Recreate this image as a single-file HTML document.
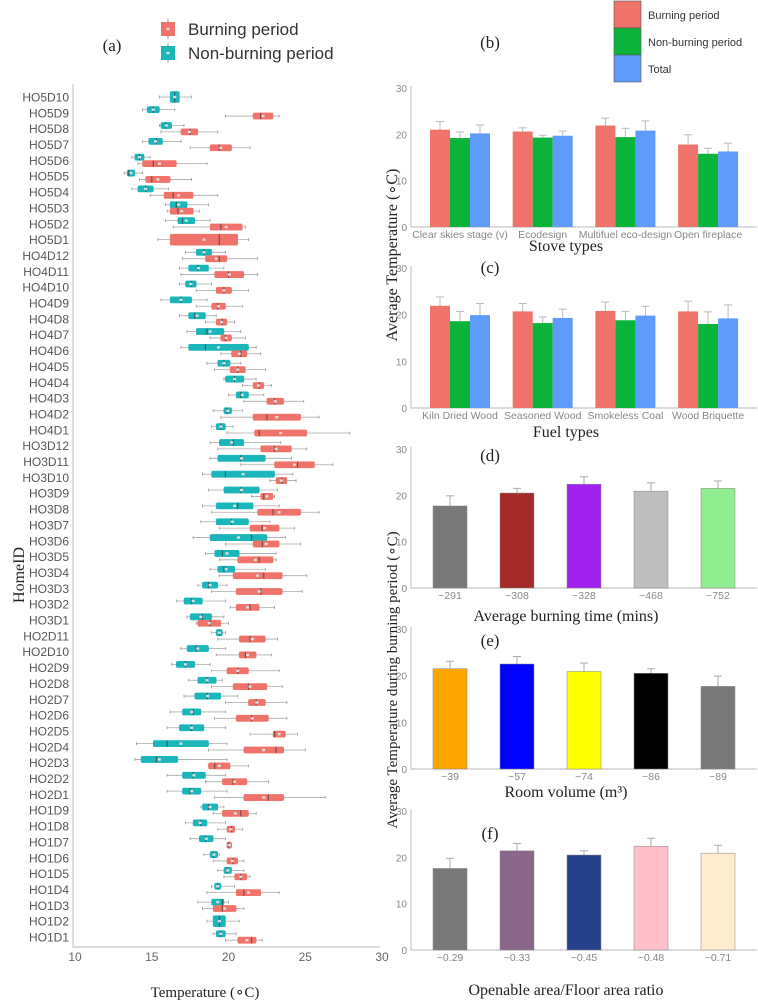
<!DOCTYPE html>
<html><head><meta charset="utf-8"><style>
html,body{margin:0;padding:0;background:#fff;}
svg{display:block;font-family:"Liberation Sans",sans-serif;}
.serif{font-family:"Liberation Serif",serif;}
</style></head><body>
<svg id="fig" width="758" height="1000" viewBox="0 0 758 1000" xmlns="http://www.w3.org/2000/svg"></svg>
<script>
// ---------- Panel (a) data ----------
const homeIds = ["HO5D10","HO5D9","HO5D8","HO5D7","HO5D6","HO5D5","HO5D4","HO5D3","HO5D2","HO5D1",
"HO4D12","HO4D11","HO4D10","HO4D9","HO4D8","HO4D7","HO4D6","HO4D5","HO4D4","HO4D3","HO4D2","HO4D1",
"HO3D12","HO3D11","HO3D10","HO3D9","HO3D8","HO3D7","HO3D6","HO3D5","HO3D4","HO3D3","HO3D2","HO3D1",
"HO2D11","HO2D10","HO2D9","HO2D8","HO2D7","HO2D6","HO2D5","HO2D4","HO2D3","HO2D2","HO2D1",
"HO1D9","HO1D8","HO1D7","HO1D6","HO1D5","HO1D4","HO1D3","HO1D2","HO1D1"];
// [whiskerMin, q1, median, q3, whiskerMax]
const nonBurning = [[15.5,16.2,16.5,16.8,17.6],[14.4,14.7,15.1,15.5,16.5],[15.5,15.6,15.9,16.3,17.1],[14.4,14.8,15.3,15.7,16.9],[13.7,13.9,14.2,14.5,14.9],[13.2,13.4,13.5,13.9,14.4],[13.7,14.1,14.6,15.1,16.1],[15.9,16.2,16.6,17.3,18.7],[15.9,16.7,17.0,17.8,18.8],null,
[17.2,17.9,18.4,18.9,19.8],[16.8,17.4,18.0,18.7,19.7],[16.8,17.2,17.6,17.9,18.9],[15.6,16.2,16.9,17.6,18.6],[16.8,17.4,17.8,18.5,19.2],[17.3,17.9,18.6,19.7,20.8],[16.9,17.4,18.5,21.3,21.8],[18.6,19.3,19.7,20.1,20.8],[19.7,19.8,20.4,21.0,21.8],[20.0,20.5,20.8,21.3,22.3],[19.0,19.7,19.9,20.2,20.9],[18.9,19.2,19.5,19.8,20.3],
[18.8,19.4,20.3,21.0,23.4],[18.8,19.3,20.8,22.4,24.1],[18.3,18.9,19.8,23.0,24.2],[18.7,19.7,20.8,22.0,23.2],[18.3,19.2,20.6,21.6,23.3],[18.2,19.2,20.2,21.3,22.7],[17.7,18.8,21.5,22.5,23.7],[18.5,19.1,19.6,20.7,23.1],[18.8,19.3,19.7,20.4,22.4],[18.0,18.3,18.7,19.3,19.9],[16.6,17.1,17.6,18.3,19.8],[17.3,17.5,18.3,18.9,19.7],
[18.9,19.2,19.4,19.6,19.8],[16.9,17.3,17.9,18.7,19.8],[16.3,16.6,17.2,17.8,18.8],[17.4,18.0,18.6,19.2,19.6],[17.1,17.8,18.6,19.5,20.6],[16.2,17.0,17.7,18.2,19.8],[16.0,16.8,17.6,18.4,19.8],[14.0,15.1,16.0,18.7,19.9],[13.9,14.3,15.3,16.7,19.9],[16.0,17.0,17.7,18.5,19.8],[16.0,17.0,17.5,18.2,19.9],
[18.2,18.3,18.7,19.3,19.7],[17.2,17.7,18.2,18.6,19.8],[17.5,18.1,18.5,19.0,19.8],[18.4,18.8,19.0,19.3,19.4],[19.3,19.7,19.9,20.2,21.0],[18.9,19.1,19.3,19.5,20.4],[18.0,18.9,19.6,19.7,20.0],[18.6,19.0,19.4,19.8,20.7],[19.0,19.2,19.5,19.8,20.5]];
const burning = [null,[19.8,21.6,22.1,22.9,23.3],[15.6,16.9,17.5,18.0,19.3],[17.5,18.8,19.4,20.2,21.4],[14.1,14.4,15.1,16.6,18.6],[14.2,14.6,15.0,16.2,17.6],[14.9,15.8,16.4,17.7,19.3],[16.0,16.2,16.7,17.7,18.1],[16.4,18.8,19.5,20.9,21.1],[15.4,16.2,19.4,20.6,21.3],
[17.0,18.5,19.4,19.9,21.9],[16.9,19.1,20.0,21.0,21.9],[17.9,19.2,19.7,20.2,21.3],[17.9,18.9,19.3,19.8,20.9],[18.5,19.2,19.6,19.9,20.4],[18.8,19.5,19.8,20.2,21.1],[19.5,20.2,20.8,21.2,22.1],[19.1,20.1,20.6,21.1,22.4],[20.9,21.6,22.0,22.3,22.8],[21.0,22.5,23.0,23.6,24.9],[19.5,21.6,22.5,24.7,25.9],[19.9,21.7,22.0,25.1,27.9],
[19.3,22.1,23.0,24.1,25.1],[20.8,23.0,24.5,25.6,26.8],[22.7,23.1,23.5,23.8,24.4],[21.5,22.1,22.3,22.9,23.0],[18.9,21.9,22.9,24.7,25.9],[19.4,21.4,22.2,23.3,24.3],[19.8,21.6,22.2,23.3,24.7],[19.4,20.6,22.0,22.9,23.1],[19.4,20.3,22.3,23.5,25.1],[18.9,20.5,22.1,23.5,24.8],[20.1,20.5,21.4,22.0,23.0],[17.9,18.0,18.8,19.5,20.0],
[19.3,20.7,21.4,22.4,23.2],[19.2,20.7,21.1,21.8,22.8],[18.9,19.9,20.6,21.3,23.3],[18.9,20.3,21.3,22.5,23.5],[19.8,21.3,21.8,22.4,23.8],[19.1,20.5,21.5,22.6,23.8],[21.4,22.9,23.0,23.7,24.5],[18.7,21.0,23.1,23.6,25.0],[18.7,18.7,19.1,20.1,21.3],[18.5,19.6,20.3,21.2,22.6],[19.1,21.0,22.6,23.6,26.3],
[19.0,19.6,20.8,21.3,21.8],[19.3,19.9,20.2,20.4,20.9],[19.9,19.9,20.0,20.2,20.2],[19.0,19.9,20.3,20.6,21.0],[19.7,20.4,20.8,21.2,21.4],[18.6,20.5,21.0,22.1,23.3],[18.3,19.0,19.6,20.5,21.0],null,[19.8,20.6,21.5,21.8,22.2]];
const tempTicks = [10,15,20,25,30];

// ---------- Panel (b),(c) data ----------
const stoveTypes = ["Clear skies stage (v)","Ecodesign","Multifuel eco-design","Open fireplace"];
const stoveBurn = [21.0,20.6,21.9,17.8];
const stoveNon = [19.2,19.3,19.4,15.8];
const stoveTotal = [20.2,19.7,20.8,16.3];
const stoveBurnErr = [22.8,21.4,23.5,19.9];
const stoveNonErr = [20.5,19.8,21.3,17.0];
const stoveTotalErr = [22.0,20.7,22.9,18.1];
const fuelTypes = ["Kiln Dried Wood","Seasoned Wood","Smokeless Coal","Wood Briquette"];
const fuelBurn = [21.9,20.7,20.8,20.7];
const fuelNon = [18.6,18.2,18.8,18.0];
const fuelTotal = [19.9,19.3,19.8,19.2];
const fuelBurnErr = [23.8,22.4,22.7,22.9];
const fuelNonErr = [20.7,19.5,20.7,20.6];
const fuelTotalErr = [22.4,21.2,21.8,22.1];
const barTicks = [0,10,20,30];

// ---------- Panels (d),(e),(f) data ----------
const burnTimeCats = ["~291","~308","~328","~468","~752"];
const burnTimeVals = [17.7,20.5,22.4,20.9,21.5];
const burnTimeErr = [19.9,21.5,24.0,22.7,23.1];
const volumeCats = ["~39","~57","~74","~86","~89"];
const volumeVals = [21.5,22.5,20.9,20.5,17.7];
const volumeErr = [23.1,24.1,22.7,21.5,19.9];
const ratioCats = ["~0.29","~0.33","~0.45","~0.48","~0.71"];
const ratioVals = [17.6,21.4,20.5,22.4,20.9];
const ratioErr = [19.8,23.0,21.4,24.1,22.6];

const NS = "http://www.w3.org/2000/svg";
const svg = document.getElementById("fig");
function mk(tag, attrs, parent, txt){
  const e = document.createElementNS(NS, tag);
  for (const k in attrs) e.setAttribute(k, attrs[k]);
  if (txt !== undefined) e.textContent = txt;
  (parent || svg).appendChild(e);
  return e;
}
const RED = "#f0736b", TEAL = "#1bb6ba", GREEN = "#0cb33a", BLUE = "#5f9bfa";

// ===== Panel (a) =====
const ga = mk("g", {});


const ax0 = 73, ax1 = 380;
const xA = t => 75 + (t - 10) * 15.35;
const rowY = i => 97 + i * ((937 - 97) / (homeIds.length - 1));
const axisA = mk("path", {d:`M${ax0} 84 V947 H${ax1}`, stroke:"#c8c8c8", "stroke-width":1.2, fill:"none"}, ga);


tempTicks.forEach(t => {
  const lab = mk("text", {x:xA(t), y:961, "font-size":12, fill:"#666", "text-anchor":"middle"}, ga, String(t));
  
  
});
function drawBox(v, cy, h, col, parent){
  const g = mk("g", {}, parent);
  
  
  mk("line", {x1:xA(v[0]), x2:xA(v[4]), y1:cy, y2:cy, stroke:"#aaa", "stroke-width":0.8}, g);
  mk("line", {x1:xA(v[0]), x2:xA(v[0]), y1:cy-1.5, y2:cy+1.5, stroke:"#999", "stroke-width":0.8}, g);
  mk("line", {x1:xA(v[4]), x2:xA(v[4]), y1:cy-1.5, y2:cy+1.5, stroke:"#999", "stroke-width":0.8}, g);
  mk("rect", {x:xA(v[1]), y:cy-h/2, width:Math.max(2, xA(v[3])-xA(v[1])), height:h, fill:col, stroke:col, "stroke-width":0.6, rx:1.5}, g);
  mk("line", {x1:xA(v[2]), x2:xA(v[2]), y1:cy-h/2, y2:cy+h/2, stroke:"#333", "stroke-width":1.2, opacity:0.6}, g);
  mk("rect", {x:xA((v[1]+v[3])/2)-1.5, y:cy-1.2, width:3, height:2.4, fill:"#ddd"}, g);
}
homeIds.forEach((id, i) => {
  const cy = rowY(i);
  const lab = mk("text", {x:69, y:cy+4.5, "font-size":12, fill:"#555", "text-anchor":"end"}, ga, id);
  
  
  const nb = nonBurning[i], b = burning[i];
  if (nb && b) { drawBox(nb, cy-3.2, 6.2, TEAL, ga); drawBox(b, cy+3.2, 6.2, RED, ga); }
  else if (nb) drawBox(nb, cy, 11, TEAL, ga);
  else if (b) drawBox(b, cy, 11, RED, ga);
});
const tA = mk("text", {x:112, y:51, "font-size":17, fill:"#222", "text-anchor":"middle", class:"serif"}, svg, "(a)");
 
const yT = mk("text", {x:0, y:0, "font-size":16, fill:"#222", "text-anchor":"middle", class:"serif", transform:"translate(24,575) rotate(-90)"}, svg, "HomeID");
 
const xT = mk("text", {x:205, y:997, "font-size":15, fill:"#222", "text-anchor":"middle", class:"serif"}, svg, "Temperature (∘C)");
 
// legend (a)
[["Burning period", RED, 29],["Non-burning period", TEAL, 53]].forEach(([txt, col, cy]) => {
  const g = mk("g", {});
  
  
  mk("line", {x1:168, x2:168, y1:cy-10, y2:cy+10, stroke:"#999"}, g);
  mk("rect", {x:161, y:cy-7, width:14, height:14, fill:col}, g);
  mk("rect", {x:166.5, y:cy-1.2, width:3, height:2.4, fill:"#ddd"}, g);
  mk("text", {x:188, y:cy+6, "font-size":17, fill:"#333"}, g, txt);
});

// ===== Bar panels =====
const PX0 = 411, PX1 = 757;
function axisFrame(name, y0, y30, label, labelY){
  const g = mk("g", {});
  
  
  mk("path", {d:`M${PX0} ${y30-2} V${y0} H${PX1}`, stroke:"#c8c8c8", "stroke-width":1.2, fill:"none"}, g);
  const yS = v => y0 - (y0 - y30) * v / 30;
  barTicks.forEach(t => mk("text", {x:PX0-4, y:yS(t)+4, "font-size":10, fill:"#888", "text-anchor":"end"}, g, String(t)));
  mk("text", {x:490, y:labelY, "font-size":17, fill:"#222", "text-anchor":"middle", class:"serif"}, g, label);
  return {g, yS};
}
function errBar(g, x, yTop, yVal, col){
  mk("line", {x1:x, x2:x, y1:yTop, y2:yVal, stroke:col, "stroke-width":1}, g);
  mk("line", {x1:x-4, x2:x+4, y1:yTop, y2:yTop, stroke:col, "stroke-width":1}, g);
}
function groupedPanel(name, y0, y30, label, labelY, cats, series, errs, title, titleY){
  const {g, yS} = axisFrame(name, y0, y30, label, labelY);
  const cols = [RED, GREEN, BLUE];
  cats.forEach((c, i) => {
    const gx = 430 + i * 82.7;
    series.forEach((arr, s) => {
      const x = gx + s * 20;
      errBar(g, x+10, yS(errs[s][i]), yS(arr[i]), "#bbb");
      const r = mk("rect", {x:x, y:yS(arr[i]), width:20, height:y0 - yS(arr[i]), fill:cols[s]}, g);
      
      
    });
    mk("text", {x:gx+30, y:y0+11, "font-size":10.5, fill:"#888", "text-anchor":"middle"}, g, c);
  });
  mk("text", {x:566, y:titleY, "font-size":16, fill:"#222", "text-anchor":"middle", class:"serif"}, g, title);
}
groupedPanel("bar-panel-b", 227, 88, "(b)", 48, stoveTypes, [stoveBurn, stoveNon, stoveTotal], [stoveBurnErr, stoveNonErr, stoveTotalErr], "Stove types", 251);
groupedPanel("bar-panel-c", 408, 268, "(c)", 273, fuelTypes, [fuelBurn, fuelNon, fuelTotal], [fuelBurnErr, fuelNonErr, fuelTotalErr], "Fuel types", 437);

function simplePanel(name, y0, y30, label, labelY, cats, vals, errs, colors, title, titleY){
  const {g, yS} = axisFrame(name, y0, y30, label, labelY);
  cats.forEach((c, i) => {
    const cx = 450 + i * 67;
    errBar(g, cx, yS(errs[i]), yS(vals[i]), "#aaa");
    const r = mk("rect", {x:cx-17, y:yS(vals[i]), width:34, height:y0 - yS(vals[i]), fill:colors[i], stroke:"#888", "stroke-width":0.5}, g);
    
    
    mk("text", {x:cx, y:y0+11, "font-size":10.5, fill:"#888", "text-anchor":"middle"}, g, c);
  });
  mk("text", {x:566, y:titleY, "font-size":16, fill:"#222", "text-anchor":"middle", class:"serif"}, g, title);
}
simplePanel("bar-panel-d", 588, 449, "(d)", 461, burnTimeCats, burnTimeVals, burnTimeErr, ["#787878","#a52a2a","#a020f0","#bebebe","#90ee90"], "Average burning time (mins)", 621);
simplePanel("bar-panel-e", 769, 629, "(e)", 646, volumeCats, volumeVals, volumeErr, ["#ffa500","#0000ff","#ffff00","#000000","#787878"], "Room volume (m³)", 797);
simplePanel("bar-panel-f", 950, 811, "(f)", 839, ratioCats, ratioVals, ratioErr, ["#787878","#8b668b","#27408b","#ffc0cb","#ffebcd"], "Openable area/Floor area ratio", 995);

// y titles right
const y1 = mk("text", {x:0, y:0, "font-size":16, fill:"#222", "text-anchor":"middle", class:"serif", transform:"translate(397,255) rotate(-90)"}, svg, "Average Temperature (∘C)");
 
const y2 = mk("text", {x:0, y:0, "font-size":15, fill:"#222", "text-anchor":"middle", class:"serif", transform:"translate(397,680) rotate(-90)"}, svg, "Average Temperature  during burning period (∘C)");
 

// legend (b)
[["Burning period", RED, 1],["Non-burning period", GREEN, 28],["Total", BLUE, 55]].forEach(([txt, col, y]) => {
  const g = mk("g", {});
  
  
  mk("rect", {x:614, y:y, width:27, height:27, fill:col, stroke:"#555", "stroke-width":0.6}, g);
  mk("text", {x:648, y:y+18, "font-size":11, fill:"#333"}, g, txt);
});
</script>
</body></html>
